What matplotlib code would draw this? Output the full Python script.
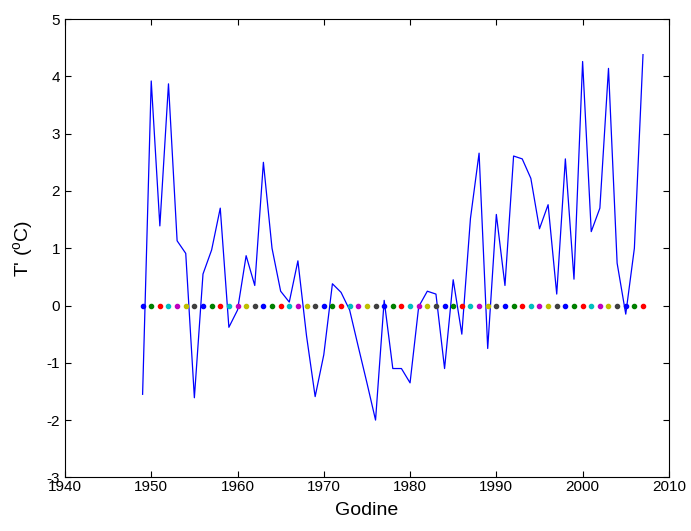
import numpy as np
import matplotlib
matplotlib.use("Agg")
import matplotlib.pyplot as plt

plt.rcParams['font.family'] = ['Liberation Sans', 'DejaVu Sans']
plt.rcParams['mathtext.fontset'] = 'custom'
plt.rcParams['mathtext.rm'] = 'Liberation Sans'
plt.rcParams['mathtext.it'] = 'Liberation Sans'
plt.rcParams['axes.unicode_minus'] = False

# godine i anomalije temperature
godine = np.arange(1949, 2008)
anomalija = [-1.55, 3.92, 1.39, 3.87, 1.13, 0.91, -1.61, 0.55, 0.97, 1.70,
             -0.38, -0.08, 0.87, 0.35, 2.50, 1.00, 0.25, 0.06, 0.78, -0.53,
             -1.59, -0.86, 0.38, 0.23, -0.08, -0.72, -1.35, -2.00, 0.09, -1.10,
             -1.10, -1.35, -0.02, 0.25, 0.20, -1.10, 0.45, -0.50, 1.52, 2.66,
             -0.75, 1.59, 0.35, 2.61, 2.56, 2.22, 1.34, 1.76, 0.20, 2.56,
             0.46, 4.26, 1.29, 1.70, 4.14, 0.74, -0.15, 1.00, 4.38]

# matlab boje za tacke na nuli
boje = [(0, 0, 1), (0, 0.5, 0), (1, 0, 0), (0, 0.75, 0.75),
        (0.75, 0, 0.75), (0.75, 0.75, 0), (0.25, 0.25, 0.25)]

fig = plt.figure(figsize=(6.91, 5.31), dpi=100)
ax = fig.add_axes([0.094, 0.101, 0.874, 0.863])

ax.plot(godine, anomalija, color='b', lw=0.9)
for i, g in enumerate(godine):
    ax.plot(g, 0, '.', color=boje[i % len(boje)], markersize=6)

ax.set_xlim(1940, 2010)
ax.set_ylim(-3, 5)
ax.set_xticks(np.arange(1940, 2011, 10))
ax.set_yticks(np.arange(-3, 6, 1))
ax.tick_params(direction='in', top=True, right=True, labelsize=11, length=4, width=0.8)
ax.tick_params(axis='x', pad=2)
for s in ax.spines.values():
    s.set_linewidth(0.8)

ax.set_xlabel('Godine', fontsize=14, labelpad=6)
ax.set_ylabel(r"T' ($^{\mathrm{o}}$C)", fontsize=14, labelpad=8)

fig.savefig('out.png', dpi=100)
